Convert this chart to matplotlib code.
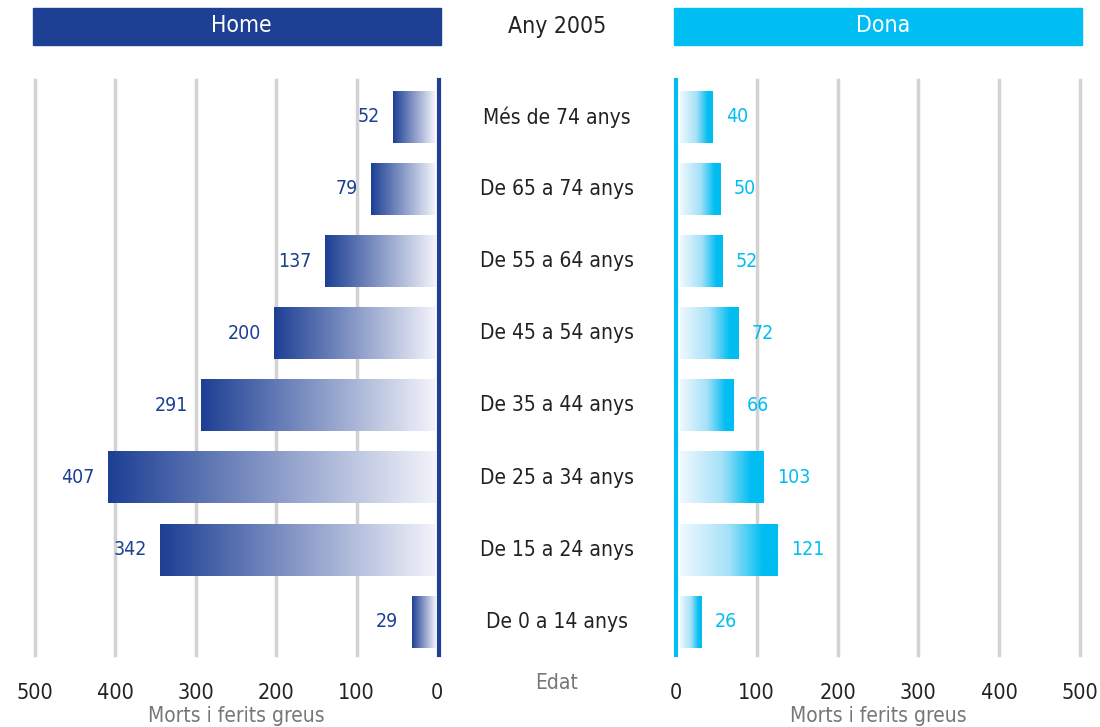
import numpy as np
import matplotlib
matplotlib.use('Agg')
from matplotlib import pyplot as plt
from matplotlib.colors import LinearSegmentedColormap
from matplotlib.patches import Rectangle

plt.rcParams['font.family'] = ['DejaVu Sans']
plt.rcParams['font.stretch'] = 'condensed'

ages = ['De 0 a 14 anys', 'De 15 a 24 anys', 'De 25 a 34 anys', 'De 35 a 44 anys',
        'De 45 a 54 anys', 'De 55 a 64 anys', 'De 65 a 74 anys', 'Més de 74 anys']
home = [29, 342, 407, 291, 200, 137, 79, 52]
dona = [26, 121, 103, 66, 72, 52, 50, 40]
ticks = [0, 100, 200, 300, 400, 500]

dark_blue = '#1d3f94'
light_blue = '#00bdf2'
grid_col = '#d3d3d3'
grey = '#777777'

W, H = 1100, 727
fig = plt.figure(figsize=(W / 100, H / 100), dpi=100)


def px_axes(x0, x1, y_top, y_bot):
    return fig.add_axes([x0 / W, 1 - y_bot / H, (x1 - x0) / W, (y_bot - y_top) / H])


cmap_home = LinearSegmentedColormap.from_list('home', [dark_blue, '#f2f3fa'])
cmap_dona = LinearSegmentedColormap.from_list(
    'dona', [(0, '#f0f9fe'), (0.5, '#a6e1f8'), (0.85, light_blue), (1, light_blue)])
grad = np.linspace(0, 1, 256).reshape(1, -1)

ypos = np.arange(len(ages))
bar_h = 0.72
ylim = (-0.46, 7.51)

# left panel (Home)
axl = px_axes(35, 437, 80, 655)
for t in ticks[1:]:
    axl.axvline(t, color=grid_col, lw=2.5, zorder=0, clip_on=False)
axl.axvline(-2.5, color=dark_blue, lw=3, clip_on=False, zorder=3)
for y, v in zip(ypos, home):
    axl.imshow(grad, cmap=cmap_home, aspect='auto', interpolation='bicubic',
               extent=(v + 2.5, 2.5, y - bar_h / 2, y + bar_h / 2), zorder=2)
    axl.text(v + 19, y, str(v), ha='right', va='center', color=dark_blue, fontsize=14)
axl.set_xlim(500, 0)
axl.set_ylim(*ylim)
axl.set_xticks(ticks)
axl.set_yticks([])

# right panel (Dona)
axr = px_axes(676, 1080, 80, 655)
for t in ticks[1:]:
    axr.axvline(t, color=grid_col, lw=2.5, zorder=0, clip_on=False)
axr.axvline(0, color=light_blue, lw=3, clip_on=False, zorder=3)
for y, v in zip(ypos, dona):
    axr.imshow(grad, cmap=cmap_dona, aspect='auto', interpolation='bicubic',
               extent=(5, v + 5, y - bar_h / 2, y + bar_h / 2), zorder=2)
    axr.text(v + 22, y, str(v), ha='left', va='center', color=light_blue, fontsize=14)
axr.set_xlim(0, 500)
axr.set_ylim(*ylim)
axr.set_xticks(ticks)
axr.set_yticks([])

for ax in (axl, axr):
    for s in ax.spines.values():
        s.set_visible(False)
    ax.tick_params(axis='x', length=0, labelsize=15.5, pad=20, colors='#222222')
    ax.set_xlabel('Morts i ferits greus', color=grey, fontsize=15, labelpad=2)

# age labels in the middle
for y, a in zip(ypos, ages):
    yy = 1 - (655 - (y - ylim[0]) / (ylim[1] - ylim[0]) * 575) / H
    fig.text(557 / W, yy, a, ha='center', va='center', fontsize=15, color='#222222')
fig.text(557 / W, 1 - 683 / H, 'Edat', ha='center', va='center', fontsize=15, color=grey)

# header boxes
fig.patches.append(Rectangle((33 / W, 1 - 45 / H), 408 / W, 37 / H, transform=fig.transFigure,
                             color=dark_blue, zorder=0))
fig.patches.append(Rectangle((674 / W, 1 - 45 / H), 408 / W, 37 / H, transform=fig.transFigure,
                             color=light_blue, zorder=0))
fig.text(241 / W, 1 - 26 / H, 'Home', ha='center', va='center', color='white', fontsize=16.5)
fig.text(883 / W, 1 - 26 / H, 'Dona', ha='center', va='center', color='white', fontsize=16.5)
fig.text(557 / W, 1 - 26 / H, 'Any 2005', ha='center', va='center', color='#222222', fontsize=16.5)

fig.savefig('out.png', dpi=100)
